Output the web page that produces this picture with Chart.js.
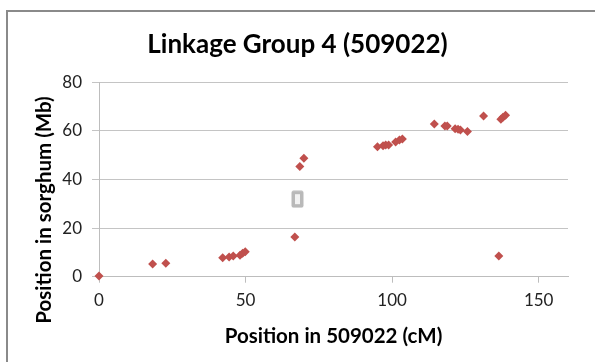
<!DOCTYPE html>
<html><head><meta charset="utf-8">
<script src="https://cdn.jsdelivr.net/npm/chart.js@4.4.0/dist/chart.umd.min.js"></script>
<style>
html,body{margin:0;padding:0;background:#fff;}
#wrap{position:relative;width:595px;height:362px;overflow:hidden;background:#fff;}
#frame{position:absolute;left:6px;top:10px;width:700px;height:500px;border-top:2px solid #8a8a8a;border-left:2px solid #8a8a8a;}
canvas{position:absolute;left:0;top:0;}
</style></head><body>
<div id="wrap"><div id="frame"></div><canvas id="c" width="595" height="362"></canvas></div>
<script>
const chartTitle = 'Linkage Group 4 (509022)';
const xAxisTitle = 'Position in 509022 (cM)';
const yAxisTitle = 'Position in sorghum (Mb)';
const positionCM = [0, 18.3, 22.8, 42.2, 44.4, 45.8, 48.1, 49.0, 49.9, 66.8, 68.5, 69.9, 95.0, 96.9, 97.8, 98.8, 101.2, 102.5, 103.5, 114.4, 118.0, 118.8, 121.5, 122.5, 123.3, 125.7, 131.2, 137.1, 137.8, 138.7, 136.4];
const positionMb = [0.3, 5.2, 5.5, 7.8, 8.1, 8.5, 8.8, 9.6, 10.3, 16.3, 45.4, 48.7, 53.5, 53.9, 54.2, 54.2, 55.4, 56.3, 56.7, 62.8, 62.0, 62.0, 60.9, 60.7, 60.4, 59.8, 66.1, 64.8, 65.6, 66.4, 8.5];
const markerCM = [67.7];
const markerMb = [31.9];
const xTicks = [0, 50, 100, 150];
const yTicks = [0, 20, 40, 60, 80];

const FONT = 'Lato, "Open Sans", sans-serif';

// small grey box marker image
const box = document.createElement('canvas');
box.width = 13; box.height = 18;
(function(){
  const g = box.getContext('2d');
  g.fillStyle = '#b9b9b9';
  g.beginPath();
  if (g.roundRect) g.roundRect(0.5, 0.5, 12, 17, 2); else g.rect(0.5,0.5,12,17);
  g.fill();
  g.fillStyle = '#f2f2f2';
  g.fillRect(4, 4, 5, 10);
})();

const pts = positionCM.map((x, i) => ({x: x, y: positionMb[i]}));
const boxPts = markerCM.map((x, i) => ({x: x, y: markerMb[i]}));

const yTitlePlugin = {
  id: 'yTitle',
  afterDraw(chart) {
    const ctx = chart.ctx;
    ctx.save();
    ctx.translate(44, 210);
    ctx.rotate(-Math.PI / 2);
    ctx.font = 'bold 20.5px ' + FONT;
    ctx.fillStyle = '#000';
    ctx.textAlign = 'center';
    ctx.textBaseline = 'middle';
    ctx.fillText(yAxisTitle, 0, 0);
    ctx.restore();
  }
};

new Chart(document.getElementById('c'), {
  type: 'scatter',
  data: {
    datasets: [
      {
        label: 'markers',
        data: pts,
        pointStyle: 'rectRot',
        pointRadius: 4.5,
        pointHoverRadius: 4.5,
        backgroundColor: '#c0504d',
        borderColor: '#c0504d',
        borderWidth: 0,
        clip: false
      },
      {
        label: 'box',
        data: boxPts,
        pointStyle: box,
        pointRadius: 8,
        clip: false
      }
    ]
  },
  options: {
    responsive: false,
    animation: false,
    devicePixelRatio: 1,
    events: [],
    layout: { padding: 0 },
    plugins: {
      legend: { display: false },
      tooltip: { enabled: false },
      title: {
        display: true,
        text: chartTitle,
        color: '#000',
        font: { family: FONT, size: 26, weight: 'bold', lineHeight: 1.2 },
        padding: { top: 29, bottom: 22.1 }
      }
    },
    scales: {
      x: {
        type: 'linear',
        min: 0, max: 160,
        afterFit(s) { s.height = 85.3; },
        afterBuildTicks(s) { s.ticks = xTicks.map(v => ({value: v})); },
        ticks: { includeBounds: false, color: '#222', font: { family: FONT, size: 17 }, padding: 8 },
        grid: { drawOnChartArea: false, drawTicks: true, tickLength: 6, color: '#bdbdbd' },
        border: { color: '#bdbdbd', width: 1 },
        title: { display: true, text: xAxisTitle, color: '#000', font: { family: FONT, size: 20.5, weight: 'bold' }, padding: { top: 0, bottom: 13 } }
      },
      y: {
        type: 'linear',
        min: 0, max: 80,
        afterFit(s) { s.width = 99; },
        afterBuildTicks(s) { s.ticks = yTicks.map(v => ({value: v})); },
        ticks: { color: '#222', font: { family: FONT, size: 17 }, padding: 10 },
        grid: { drawTicks: true, tickLength: 7, color: '#c4c4c4' },
        border: { color: '#bdbdbd', width: 1 }
      },
      yRight: {
        type: 'linear',
        position: 'right',
        display: true,
        afterFit(s) { s.width = 27; },
        ticks: { display: false },
        grid: { display: false, drawOnChartArea: false },
        border: { display: false }
      }
    }
  },
  plugins: [yTitlePlugin]
});
</script>
</body></html>
